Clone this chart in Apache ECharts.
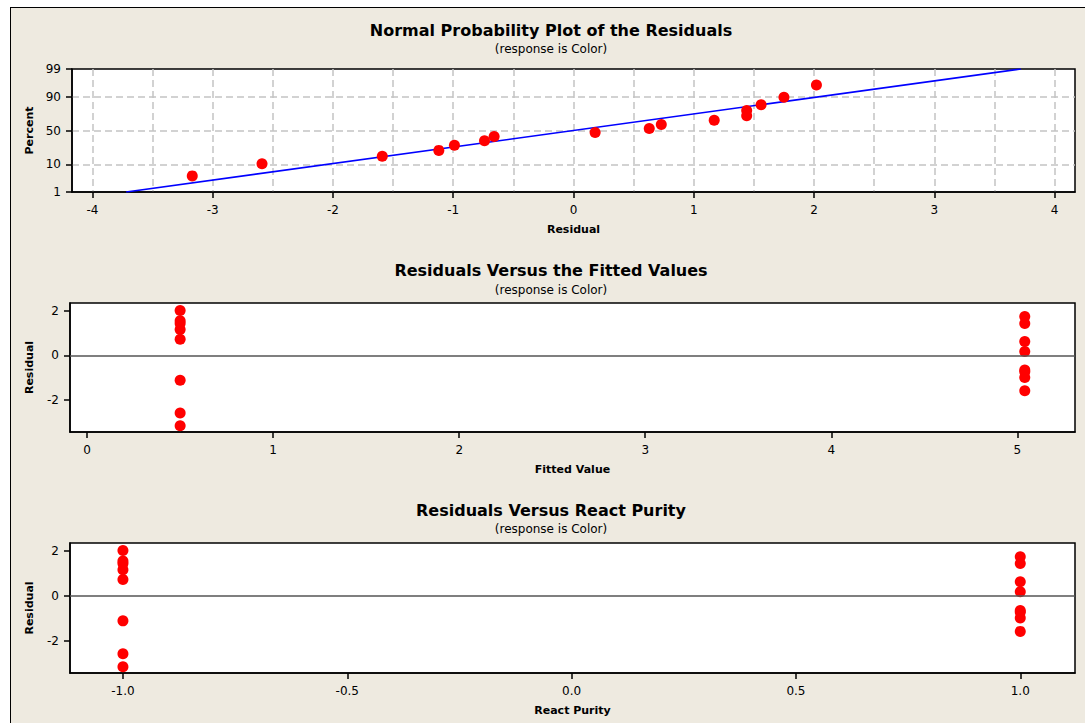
<!DOCTYPE html>
<html>
<head>
<meta charset="utf-8">
<title>Residual Plots for Color</title>
<script src="https://cdn.jsdelivr.net/npm/echarts@6/dist/echarts.min.js"></script>
<style>
  html, body { margin: 0; padding: 0; width: 100%; height: 100%; overflow: hidden; background: #ffffff; }
  #panel { position: absolute; left: 10px; top: 7px; width: 1100px; height: 800px; background: #EEEAE0; border: 1px solid #000; }
  #chart { position: absolute; left: 0; top: 0; width: 1085px; height: 723px; }
</style>
</head>
<body>
<div id="panel"></div>
<div id="chart"></div>
<script>
// Residuals of the Color model, sorted ascending
const residuals = [-3.17, -2.59, -1.59, -1.12, -0.99, -0.74, -0.66, 0.18, 0.63, 0.73, 1.17, 1.44, 1.44, 1.56, 1.75, 2.02];
// Normal plotting position (percent) of each sorted residual
const normalPercent = [4.3, 10.4, 16.5, 22.6, 28.7, 34.8, 40.9, 47.0, 53.0, 59.1, 65.2, 71.3, 77.4, 83.5, 89.6, 95.7];
// Fitted value and React Purity level of each observation
const fittedValues = [0.50, 0.50, 5.04, 0.50, 5.04, 5.04, 5.04, 5.04, 5.04, 0.50, 0.50, 0.50, 5.04, 0.50, 5.04, 0.50];
const reactPurity = [-1, -1, 1, -1, 1, 1, 1, 1, 1, -1, -1, -1, 1, -1, 1, -1];
// Fitted normal distribution line (residual at 1% and 99%)
const fitLineResidual = [-3.72, 3.72];
const fitLinePercent = [1, 99];

// Tick labels
const percentTicks = [1, 10, 50, 90, 99];
const residualTicks = [-4, -3, -2, -1, 0, 1, 2, 3, 4];
const residualGrid = [-4, -3.5, -3, -2.5, -2, -1.5, -1, -0.5, 0, 0.5, 1, 1.5, 2, 2.5, 3, 3.5, 4];
const fittedTicks = [0, 1, 2, 3, 4, 5];
const purityTicks = [-1, -0.5, 0, 0.5, 1];
const residualYTicks = [-2, 0, 2];

// Inverse standard normal CDF (Acklam's approximation) for the probability scale
function probit(p) {
  const a = [-3.969683028665376e+01, 2.209460984245205e+02, -2.759285104469687e+02, 1.383577518672690e+02, -3.066479806614716e+01, 2.506628277459239e+00];
  const b = [-5.447609879822406e+01, 1.615858368580409e+02, -1.556989798598866e+02, 6.680131188771972e+01, -1.328068155288572e+01];
  const c = [-7.784894002430293e-03, -3.223964580411365e-01, -2.400758277161838e+00, -2.549732539343734e+00, 4.374664141464968e+00, 2.938163982698783e+00];
  const d = [7.784695709041462e-03, 3.224671290700398e-01, 2.445134137142996e+00, 3.754408661907416e+00];
  const pl = 0.02425, ph = 1 - pl;
  let q, r;
  if (p < pl) {
    q = Math.sqrt(-2 * Math.log(p));
    return (((((c[0]*q+c[1])*q+c[2])*q+c[3])*q+c[4])*q+c[5]) / ((((d[0]*q+d[1])*q+d[2])*q+d[3])*q+1);
  }
  if (p <= ph) {
    q = p - 0.5; r = q * q;
    return (((((a[0]*r+a[1])*r+a[2])*r+a[3])*r+a[4])*r+a[5])*q / (((((b[0]*r+b[1])*r+b[2])*r+b[3])*r+b[4])*r+1);
  }
  q = Math.sqrt(-2 * Math.log(1 - p));
  return -(((((c[0]*q+c[1])*q+c[2])*q+c[3])*q+c[4])*q+c[5]) / ((((d[0]*q+d[1])*q+d[2])*q+d[3])*q+1);
}

const zTicks = percentTicks.map(p => probit(p / 100));
const zGrid = zTicks.slice(1, -1);
function percentLabel(v) {
  let best = 0;
  zTicks.forEach((z, i) => { if (Math.abs(z - v) < Math.abs(zTicks[best] - v)) best = i; });
  return String(percentTicks[best]);
}

const FONT = 'DejaVu Sans';
const labelStyle = { color: '#000', fontFamily: FONT, fontSize: 12 };
const nameStyle = { color: '#000', fontFamily: FONT, fontSize: 11, fontWeight: 'bold' };
const axisLine = { show: true, onZero: false, lineStyle: { color: '#000', width: 1.5 } };
const tickBase = { show: true, inside: false, length: 6, lineStyle: { color: '#000', width: 1.5 } };
const dashed = { show: true, lineStyle: { color: '#c4c4c4', width: 1.5, type: [7, 4] } };
const gridBase = { show: true, backgroundColor: '#ffffff', borderColor: '#000', borderWidth: 1.5, containLabel: false };

function valueAxis(extra) {
  return Object.assign({
    type: 'value',
    axisLine: axisLine,
    splitLine: { show: false },
    nameLocation: 'middle',
    nameTextStyle: nameStyle
  }, extra);
}

const chart = echarts.init(document.getElementById('chart'), null, { renderer: 'svg' });

const titleText = (text, y) => ({
  type: 'text', x: 551, y: y,
  style: { text: text, fill: '#000', font: 'bold 16px "DejaVu Sans"', textAlign: 'center', textVerticalAlign: 'middle' }
});
const subText = (text, y) => ({
  type: 'text', x: 551, y: y,
  style: { text: text, fill: '#000', font: '12px "DejaVu Sans"', textAlign: 'center', textVerticalAlign: 'middle' }
});

chart.setOption({
  animation: false,
  backgroundColor: 'transparent',
  graphic: [
    titleText('Normal Probability Plot of the Residuals', 30),
    subText('(response is Color)', 49),
    titleText('Residuals Versus the Fitted Values', 270),
    subText('(response is Color)', 290),
    titleText('Residuals Versus React Purity', 510),
    subText('(response is Color)', 529)
  ],
  grid: [
    Object.assign({ left: 72, top: 69, width: 1003, height: 123 }, gridBase),
    Object.assign({ left: 70, top: 303, width: 1005, height: 129 }, gridBase),
    Object.assign({ left: 70, top: 543, width: 1005, height: 130 }, gridBase)
  ],
  xAxis: [
    valueAxis({
      gridIndex: 0, min: -4.17, max: 4.17,
      name: 'Residual', nameGap: 32,
      axisTick: Object.assign({ customValues: residualTicks }, tickBase),
      axisLabel: Object.assign({ customValues: residualTicks, margin: 12 }, labelStyle)
    }),
    valueAxis({
      gridIndex: 0, min: -4.17, max: 4.17,
      axisLine: { show: false, onZero: false },
      axisTick: { show: false, customValues: residualGrid },
      axisLabel: { show: false, customValues: residualGrid },
      splitLine: Object.assign({ customValues: residualGrid }, dashed)
    }),
    valueAxis({
      gridIndex: 1, min: -0.092, max: 5.31,
      name: 'Fitted Value', nameGap: 32,
      axisTick: Object.assign({ customValues: fittedTicks }, tickBase),
      axisLabel: Object.assign({ customValues: fittedTicks, margin: 12 }, labelStyle)
    }),
    valueAxis({
      gridIndex: 2, min: -1.118, max: 1.122,
      name: 'React Purity', nameGap: 32,
      axisTick: Object.assign({ customValues: purityTicks }, tickBase),
      axisLabel: Object.assign({ customValues: purityTicks, margin: 12, formatter: v => v.toFixed(1) }, labelStyle)
    })
  ],
  yAxis: [
    valueAxis({
      gridIndex: 0, min: zTicks[0], max: zTicks[zTicks.length - 1],
      name: 'Percent', nameGap: 36,
      axisTick: Object.assign({ customValues: zTicks }, tickBase),
      axisLabel: Object.assign({ customValues: zTicks, margin: 11, formatter: percentLabel }, labelStyle)
    }),
    valueAxis({
      gridIndex: 0, min: zTicks[0], max: zTicks[zTicks.length - 1],
      axisLine: { show: false, onZero: false },
      axisTick: { show: false, customValues: zGrid },
      axisLabel: { show: false, customValues: zGrid },
      splitLine: Object.assign({ customValues: zGrid }, dashed)
    }),
    valueAxis({
      gridIndex: 1, min: -3.45, max: 2.36,
      name: 'Residual', nameGap: 35,
      axisTick: Object.assign({ customValues: residualYTicks }, tickBase),
      axisLabel: Object.assign({ customValues: residualYTicks, margin: 11 }, labelStyle)
    }),
    valueAxis({
      gridIndex: 2, min: -3.45, max: 2.36,
      name: 'Residual', nameGap: 35,
      axisTick: Object.assign({ customValues: residualYTicks }, tickBase),
      axisLabel: Object.assign({ customValues: residualYTicks, margin: 11 }, labelStyle)
    })
  ],
  series: [
    {
      type: 'line', xAxisIndex: 0, yAxisIndex: 0, z: 2,
      showSymbol: false, silent: true,
      lineStyle: { color: '#0000ff', width: 1.6 },
      data: fitLineResidual.map((r, i) => [r, probit(fitLinePercent[i] / 100)])
    },
    {
      type: 'scatter', xAxisIndex: 0, yAxisIndex: 0, z: 3,
      symbolSize: 11, itemStyle: { color: '#ff0000', opacity: 1 },
      data: residuals.map((r, i) => [r, probit(normalPercent[i] / 100)])
    },
    {
      type: 'scatter', xAxisIndex: 2, yAxisIndex: 2, z: 3,
      symbolSize: 11, itemStyle: { color: '#ff0000', opacity: 1 },
      data: residuals.map((r, i) => [fittedValues[i], r]),
      markLine: {
        silent: true, symbol: 'none', label: { show: false },
        lineStyle: { color: '#555555', width: 1.5, type: 'solid' },
        data: [{ yAxis: 0 }]
      }
    },
    {
      type: 'scatter', xAxisIndex: 3, yAxisIndex: 3, z: 3,
      symbolSize: 11, itemStyle: { color: '#ff0000', opacity: 1 },
      data: residuals.map((r, i) => [reactPurity[i], r]),
      markLine: {
        silent: true, symbol: 'none', label: { show: false },
        lineStyle: { color: '#555555', width: 1.5, type: 'solid' },
        data: [{ yAxis: 0 }]
      }
    }
  ]
});
</script>
</body>
</html>
